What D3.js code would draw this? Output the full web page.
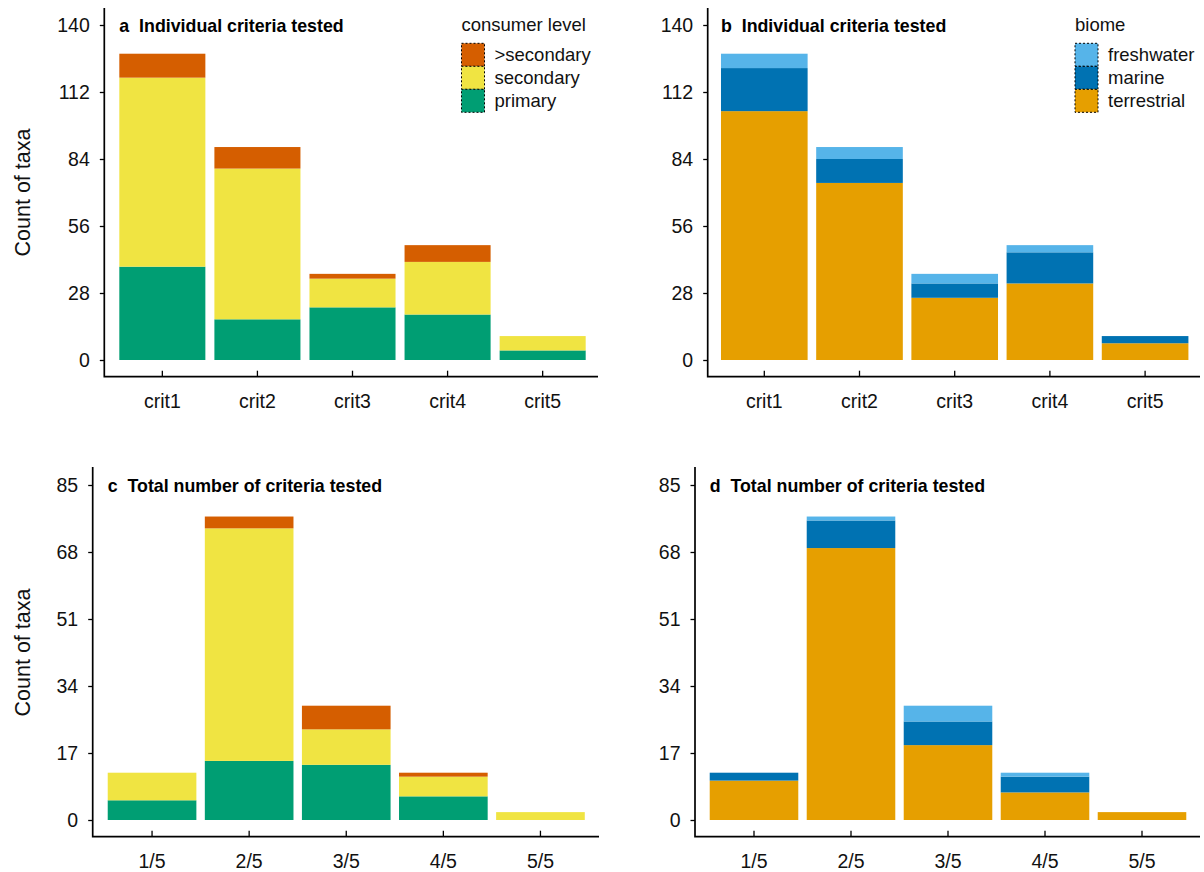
<!DOCTYPE html>
<html>
<head>
<meta charset="utf-8">
<script src="https://cdn.jsdelivr.net/npm/d3@7"></script>
<style>
  html, body { margin: 0; padding: 0; background: #ffffff; }
  svg { display: block; font-family: "Liberation Sans", Arial, sans-serif; }
</style>
</head>
<body>
<svg id="chart" width="1204" height="872"></svg>
<script>
// Categories
const critCategories = ["crit1", "crit2", "crit3", "crit4", "crit5"];
const totalCategories = ["1/5", "2/5", "3/5", "4/5", "5/5"];

// Series keys (stacking order, bottom to top)
const consumerLevels = ["primary", "secondary", ">secondary"];
const biomes = ["terrestrial", "marine", "freshwater"];

// Individual criteria tested, by consumer level
const critPrimary = [39, 17, 22, 19, 4];
const critSecondary = [79, 63, 12, 22, 6];
const critHigher = [10, 9, 2, 7, 0];

// Individual criteria tested, by biome
const critTerrestrial = [104, 74, 26, 32, 7];
const critMarine = [18, 10, 6, 13, 3];
const critFreshwater = [6, 5, 4, 3, 0];

// Total number of criteria tested, by consumer level
const totalPrimary = [5, 15, 14, 6, 0];
const totalSecondary = [7, 59, 9, 5, 2];
const totalHigher = [0, 3, 6, 1, 0];

// Total number of criteria tested, by biome
const totalTerrestrial = [10, 69, 19, 7, 2];
const totalMarine = [2, 7, 6, 4, 0];
const totalFreshwater = [0, 1, 4, 1, 0];

// Axis ticks
const critTicks = [0, 28, 56, 84, 112, 140];
const totalTicks = [0, 17, 34, 51, 68, 85];

const consumerColors = { "primary": "#009E73", "secondary": "#F0E442", ">secondary": "#D55E00" };
const biomeColors = { "terrestrial": "#E69F00", "marine": "#0072B2", "freshwater": "#56B4E9" };

function rows(categories, keys, arrays) {
  return categories.map((c, i) => {
    const r = { category: c };
    keys.forEach((k, j) => { r[k] = arrays[j][i]; });
    return r;
  });
}

const svg = d3.select("#chart");

function drawPanel(p) {
  const g = svg.append("g");
  const x = d3.scaleBand()
    .domain(p.categories)
    .range(p.xRange)
    .paddingInner(p.pad)
    .paddingOuter(p.pad / 2);
  const y = d3.scaleLinear()
    .domain([0, p.ticks[p.ticks.length - 1]])
    .range([p.y0, p.yTop]);

  const stacked = d3.stack().keys(p.keys)(rows(p.categories, p.keys, p.series));

  // stacked bars
  g.selectAll("g.layer")
    .data(stacked)
    .join("g")
    .attr("class", "layer")
    .attr("fill", d => p.colors[d.key])
    .selectAll("rect")
    .data(d => d)
    .join("rect")
    .attr("x", d => x(d.data.category))
    .attr("width", x.bandwidth())
    .attr("y", d => y(d[1]))
    .attr("height", d => Math.max(0, y(d[0]) - y(d[1])));

  // y axis
  const yAxis = d3.axisLeft(y).tickValues(p.ticks).tickSize(4.5).tickPadding(10).tickFormat(d3.format("d"));
  const ya = g.append("g").attr("transform", `translate(${p.axisX},0)`).call(yAxis);
  ya.select(".domain").remove();
  ya.selectAll(".tick line").attr("stroke", "#000").attr("stroke-width", 1.3);
  ya.selectAll(".tick text").attr("font-size", "19.5px").attr("fill", "#111")
    .attr("font-family", "Liberation Sans, Arial, sans-serif");

  // x axis (ticks point into the plot)
  const xAxis = d3.axisTop(x).tickSize(6).tickFormat("");
  const xa = g.append("g").attr("transform", `translate(0,${p.axisY})`).call(xAxis);
  xa.select(".domain").remove();
  xa.selectAll(".tick line").attr("stroke", "#000").attr("stroke-width", 1.3);

  g.selectAll("text.xlab")
    .data(p.categories)
    .join("text")
    .attr("class", "xlab")
    .attr("x", d => x(d) + x.bandwidth() / 2)
    .attr("y", p.axisY + 31.5)
    .attr("text-anchor", "middle")
    .attr("font-size", "19.5px")
    .attr("fill", "#111")
    .text(d => d);

  // L-shaped frame
  g.append("path")
    .attr("d", `M${p.axisX},${p.axisTopY} V${p.axisY} H${p.axisEndX}`)
    .attr("fill", "none")
    .attr("stroke", "#000")
    .attr("stroke-width", 1.7);

  // panel title
  g.append("text")
    .attr("x", x(p.categories[0]))
    .attr("y", p.titleY)
    .attr("font-size", "17.8px")
    .attr("font-weight", "bold")
    .attr("fill", "#000")
    .attr("xml:space", "preserve")
    .text(p.title);

  if (p.yTitle) {
    g.append("text")
      .attr("transform", `translate(30,${(p.y0 + p.yTop) / 2}) rotate(-90)`)
      .attr("text-anchor", "middle")
      .attr("font-size", "21.5px")
      .attr("fill", "#111")
      .text(p.yTitle);
  }

  if (p.legend) {
    const L = p.legend;
    const lg = g.append("g");
    lg.append("text")
      .attr("x", L.x)
      .attr("y", L.y)
      .attr("font-size", "18.5px")
      .attr("fill", "#111")
      .text(L.title);
    const order = p.keys.slice().reverse();
    const sw = 23;
    order.forEach((k, i) => {
      const top = L.y + 12.3 + i * sw;
      lg.append("rect")
        .attr("x", L.x).attr("y", top)
        .attr("width", sw).attr("height", sw)
        .attr("fill", p.colors[k])
        .attr("stroke", "#000")
        .attr("stroke-width", 1)
        .attr("stroke-dasharray", "2,2");
      lg.append("text")
        .attr("x", L.x + sw + 10)
        .attr("y", top + sw / 2 + 6.5)
        .attr("font-size", "18.5px")
        .attr("fill", "#111")
        .text(k);
    });
  }
}

drawPanel({
  categories: critCategories, keys: consumerLevels, colors: consumerColors,
  series: [critPrimary, critSecondary, critHigher], ticks: critTicks,
  xRange: [114.8, 590.2], pad: 0.095, y0: 360, yTop: 25,
  axisX: 104.3, axisTopY: 8, axisY: 376.7, axisEndX: 598,
  title: "a  Individual criteria tested", titleY: 31.5, yTitle: "Count of taxa",
  legend: { title: "consumer level", x: 461.5, y: 31 }
});

drawPanel({
  categories: critCategories, keys: biomes, colors: biomeColors,
  series: [critTerrestrial, critMarine, critFreshwater], ticks: critTicks,
  xRange: [716.7, 1192.7], pad: 0.09, y0: 360, yTop: 25,
  axisX: 707.7, axisTopY: 8, axisY: 376.7, axisEndX: 1200,
  title: "b  Individual criteria tested", titleY: 31.5,
  legend: { title: "biome", x: 1075, y: 31 }
});

drawPanel({
  categories: totalCategories, keys: consumerLevels, colors: consumerColors,
  series: [totalPrimary, totalSecondary, totalHigher], ticks: totalTicks,
  xRange: [103.5, 589], pad: 0.087, y0: 820, yTop: 485,
  axisX: 92.7, axisTopY: 467, axisY: 836.7, axisEndX: 599,
  title: "c  Total number of criteria tested", titleY: 491.5, yTitle: "Count of taxa"
});

drawPanel({
  categories: totalCategories, keys: biomes, colors: biomeColors,
  series: [totalTerrestrial, totalMarine, totalFreshwater], ticks: totalTicks,
  xRange: [705.5, 1190.5], pad: 0.087, y0: 820, yTop: 485,
  axisX: 695, axisTopY: 467, axisY: 836.7, axisEndX: 1200,
  title: "d  Total number of criteria tested", titleY: 491.5
});
</script>
</body>
</html>
